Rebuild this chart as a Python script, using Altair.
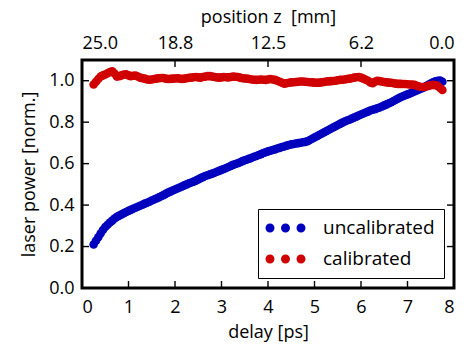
import json
import altair as alt
import pandas as pd

delay = [0.25, 0.30, 0.35, 0.40, 0.45, 0.50, 0.55, 0.60, 0.65, 0.70, 0.75, 0.80, 0.85,
         0.90, 0.95, 1.00, 1.05, 1.10, 1.15, 1.20, 1.25, 1.30, 1.35, 1.40, 1.45, 1.50,
         1.55, 1.60, 1.65, 1.70, 1.75, 1.80, 1.85, 1.90, 1.95, 2.00, 2.05, 2.10, 2.15,
         2.20, 2.25, 2.30, 2.35, 2.40, 2.45, 2.50, 2.55, 2.60, 2.65, 2.70, 2.75, 2.80,
         2.85, 2.90, 2.95, 3.00, 3.05, 3.10, 3.15, 3.20, 3.25, 3.30, 3.35, 3.40, 3.45,
         3.50, 3.55, 3.60, 3.65, 3.70, 3.75, 3.80, 3.85, 3.90, 3.95, 4.00, 4.05, 4.10,
         4.15, 4.20, 4.25, 4.30, 4.35, 4.40, 4.45, 4.50, 4.55, 4.60, 4.65, 4.70, 4.75,
         4.80, 4.85, 4.90, 4.95, 5.00, 5.05, 5.10, 5.15, 5.20, 5.25, 5.30, 5.35, 5.40,
         5.45, 5.50, 5.55, 5.60, 5.65, 5.70, 5.75, 5.80, 5.85, 5.90, 5.95, 6.00, 6.05,
         6.10, 6.15, 6.20, 6.25, 6.30, 6.35, 6.40, 6.45, 6.50, 6.55, 6.60, 6.65, 6.70,
         6.75, 6.80, 6.85, 6.90, 6.95, 7.00, 7.05, 7.10, 7.15, 7.20, 7.25, 7.30, 7.35,
         7.40, 7.45, 7.50, 7.55, 7.60, 7.65, 7.70, 7.75]

uncalibrated = [0.210, 0.228, 0.245, 0.263, 0.280, 0.294, 0.305, 0.316, 0.325, 0.335,
                0.343, 0.349, 0.355, 0.361, 0.367, 0.372, 0.377, 0.382, 0.387, 0.392,
                0.397, 0.402, 0.407, 0.411, 0.416, 0.422, 0.427, 0.432, 0.437, 0.443,
                0.448, 0.454, 0.460, 0.465, 0.470, 0.475, 0.480, 0.485, 0.490, 0.495,
                0.500, 0.505, 0.509, 0.513, 0.518, 0.524, 0.530, 0.535, 0.540, 0.544,
                0.548, 0.552, 0.556, 0.561, 0.565, 0.570, 0.574, 0.579, 0.584, 0.589,
                0.594, 0.598, 0.602, 0.607, 0.612, 0.616, 0.620, 0.624, 0.628, 0.633,
                0.637, 0.642, 0.646, 0.651, 0.655, 0.659, 0.662, 0.666, 0.669, 0.673,
                0.676, 0.680, 0.683, 0.687, 0.690, 0.693, 0.695, 0.697, 0.699, 0.701,
                0.703, 0.705, 0.708, 0.714, 0.720, 0.726, 0.732, 0.738, 0.744, 0.750,
                0.756, 0.762, 0.768, 0.774, 0.780, 0.786, 0.792, 0.798, 0.803, 0.808,
                0.812, 0.817, 0.822, 0.827, 0.832, 0.837, 0.842, 0.847, 0.851, 0.856,
                0.860, 0.863, 0.867, 0.871, 0.876, 0.881, 0.886, 0.891, 0.896, 0.902,
                0.908, 0.914, 0.920, 0.925, 0.930, 0.934, 0.938, 0.943, 0.948, 0.953,
                0.958, 0.963, 0.968, 0.974, 0.980, 0.986, 0.992, 0.997, 1.000, 1.001,
                0.995]

calibrated = [0.982, 0.995, 1.008, 1.020, 1.026, 1.030, 1.036, 1.042, 1.045, 1.035,
              1.020, 1.022, 1.026, 1.030, 1.031, 1.026, 1.022, 1.024, 1.025, 1.020,
              1.015, 1.012, 1.010, 1.006, 1.005, 1.006, 1.008, 1.010, 1.012, 1.013,
              1.013, 1.010, 1.008, 1.009, 1.010, 1.011, 1.012, 1.010, 1.008, 1.010,
              1.012, 1.014, 1.015, 1.017, 1.018, 1.016, 1.015, 1.018, 1.020, 1.022,
              1.022, 1.020, 1.018, 1.016, 1.015, 1.016, 1.018, 1.017, 1.016, 1.018,
              1.020, 1.019, 1.018, 1.015, 1.012, 1.011, 1.010, 1.008, 1.006, 1.005,
              1.004, 1.005, 1.006, 1.005, 1.004, 1.006, 1.008, 1.006, 1.004, 1.000,
              0.995, 0.990, 0.986, 0.988, 0.990, 0.992, 0.993, 0.994, 0.995, 0.996,
              0.996, 0.995, 0.994, 0.993, 0.992, 0.991, 0.990, 0.991, 0.992, 0.994,
              0.996, 0.997, 0.998, 0.999, 1.000, 1.002, 1.004, 1.005, 1.006, 1.008,
              1.010, 1.012, 1.015, 1.017, 1.018, 1.015, 1.010, 1.005, 1.000, 0.992,
              0.988, 0.995, 1.000, 0.998, 0.996, 0.994, 0.992, 0.991, 0.990, 0.988,
              0.986, 0.985, 0.985, 0.984, 0.984, 0.983, 0.982, 0.981, 0.980, 0.976,
              0.972, 0.970, 0.970, 0.972, 0.975, 0.978, 0.980, 0.978, 0.975, 0.965,
              0.955]

series_names = ["uncalibrated", "calibrated"]
series_colors = ["#0000bf", "#d10000"]

x_ticks = [0, 1, 2, 3, 4, 5, 6, 7, 8]
y_ticks = [0.0, 0.2, 0.4, 0.6, 0.8, 1.0]
top_vals = [0, 2, 4, 6, 8]
top_labels = ["25.0", "18.8", "12.5", "6.2", "0.0"]

W, H = 372, 228
FONT = "Open Sans"
FS = 18

df = pd.DataFrame({
    "delay": delay + delay,
    "power": uncalibrated + calibrated,
    "series": [series_names[0]] * len(delay) + [series_names[1]] * len(delay),
    "series_order": [0] * len(delay) + [1] * len(delay),
})
xt = pd.DataFrame({"x": x_ticks})
yt = pd.DataFrame({"y": y_ticks})
tt = pd.DataFrame({"x": top_vals})

xscale = alt.Scale(domain=[0, 8], nice=False, zero=False)
yscale = alt.Scale(domain=[0, 1.1], nice=False, zero=False)

# three-dot legend symbol (unit = half of sqrt(symbolSize))
r = 0.45
path = ""
for c in (-0.7, 0.85, 2.4):
    path += f"M{c - r:.3f},0A{r},{r} 0 1,1 {c + r:.3f},0A{r},{r} 0 1,1 {c - r:.3f},0Z"

points = alt.Chart(df).mark_circle(size=74, opacity=1).encode(
    x=alt.X("delay:Q", scale=xscale,
            axis=alt.Axis(title="delay [ps]", values=x_ticks, format="d", ticks=False,
                          domain=False, grid=False, labelPadding=10, titlePadding=7)),
    y=alt.Y("power:Q", scale=yscale,
            axis=alt.Axis(title="laser power [norm.]", values=y_ticks, format=".1f",
                          ticks=False, domain=False, grid=False, labelPadding=8,
                          titlePadding=10)),
    color=alt.Color("series:N",
                    scale=alt.Scale(domain=series_names, range=series_colors),
                    legend=alt.Legend(title=None, orient="bottom-right", offset=10,
                                      symbolType=path, symbolSize=400,
                                      symbolStrokeWidth=0, symbolOpacity=1,
                                      labelFontSize=19, labelFont=FONT, labelColor="black",
                                      labelExpr="datum.label + '\u00a0\u00a0'",
                                      labelOffset=36, strokeColor="black",
                                      fillColor="white", padding=9, rowPadding=11)),
    order=alt.Order("series_order:Q"),
)

bottom_ticks = alt.Chart(xt).mark_rule(color="black", strokeWidth=1.4).encode(
    x=alt.X("x:Q", scale=xscale, axis=None), y=alt.value(H), y2=alt.value(H - 7))
left_ticks = alt.Chart(yt).mark_rule(color="black", strokeWidth=1.4).encode(
    y=alt.Y("y:Q", scale=yscale, axis=None), x=alt.value(0), x2=alt.value(7))
right_ticks = alt.Chart(yt).mark_rule(color="black", strokeWidth=1.4).encode(
    y=alt.Y("y:Q", scale=yscale, axis=None), x=alt.value(W), x2=alt.value(W - 7))
label_expr = f"{json.dumps(top_labels)}[indexof({json.dumps(top_vals)}, datum.value)]"
top_ticks = alt.Chart(tt).mark_rule(color="black", strokeWidth=1.4).encode(
    x=alt.X("x:Q", scale=xscale,
            axis=alt.Axis(orient="top", title="position z\u00a0 [mm]", values=top_vals,
                          labelExpr=label_expr, ticks=False, domain=False, grid=False,
                          labelPadding=8, titlePadding=8)),
    y=alt.value(0), y2=alt.value(7))

chart = alt.layer(points, bottom_ticks, left_ticks, right_ticks, top_ticks).resolve_axis(
    x="independent", y="independent"
).properties(
    width=W, height=H,
    padding={"left": 82, "top": 60, "right": 14, "bottom": 63},
    autosize=alt.AutoSizeParams(type="none"),
    background="white",
).configure_view(
    stroke="black", strokeWidth=3
).configure_axis(
    labelFont=FONT, labelFontSize=FS, labelColor="black",
    titleFont=FONT, titleFontSize=FS, titleFontWeight="normal", titleColor="black",
)

chart.save("out.html", embed_options={"renderer": "svg", "actions": False})
